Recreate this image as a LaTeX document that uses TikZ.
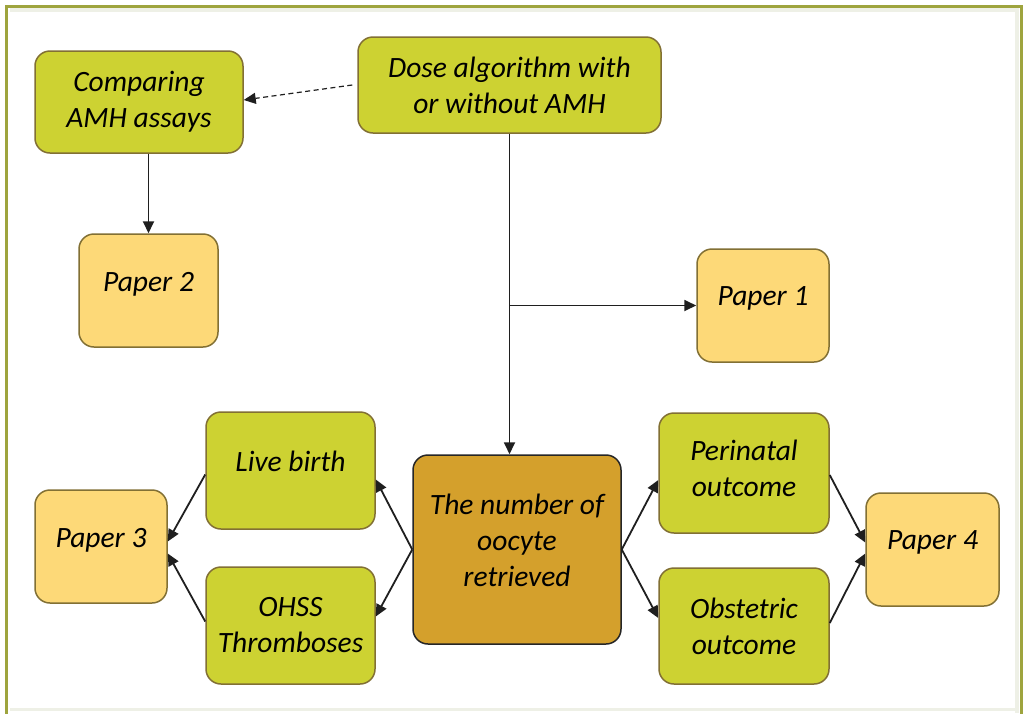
\documentclass[tikz,border=0pt]{standalone}
\usepackage{fontspec}
\setmainfont{Carlito}
\usetikzlibrary{arrows.meta}
\definecolor{boxgreen}{RGB}{205,210,50}
\definecolor{boxpaper}{RGB}{253,217,120}
\definecolor{boxgold}{RGB}{212,160,44}
\definecolor{edgebrown}{RGB}{130,112,52}
\definecolor{frameolive}{RGB}{158,164,62}
\definecolor{frameshade}{RGB}{238,240,230}
\tikzset{
  base/.style={rectangle, rounded corners=15pt, line width=1.5pt, draw=edgebrown,
    align=center, inner sep=0pt, font=\fontsize{29.5}{36}\selectfont\itshape},
  greenbox/.style={base, fill=boxgreen},
  paperbox/.style={base, fill=boxpaper},
  goldbox/.style={base, fill=boxgold, draw=black!85},
  raised/.style={text depth=18pt},
  conn/.style={line width=1.8pt, draw=black!88, -{Triangle[length=12pt,width=11pt]}},
}
\begin{document}
\begin{tikzpicture}[x=1pt,y=-1pt]
\useasboundingbox (0,0) rectangle (1027,713);
\fill[white] (0,0) rectangle (1027,713);
\draw[frameshade, line width=4pt] (10,10) -- (1017,10) -- (1017,713);
\draw[frameshade, line width=3pt] (10,709) -- (1017,709);
\draw[frameolive, line width=3pt] (6,716) -- (6,6) -- (1021,6) -- (1021,716);

\node[greenbox, minimum width=208pt, minimum height=102pt] (cmp) at (139,102) {Comparing\\AMH assays};
\node[greenbox, minimum width=303pt, minimum height=96pt] (dose) at (509.5,85) {Dose algorithm with\\or without AMH};
\node[paperbox, raised, minimum width=139pt, minimum height=113pt] (p2) at (148.5,290.5) {Paper 2};
\node[paperbox, raised, minimum width=132pt, minimum height=113pt] (p1) at (763,305.5) {Paper 1};
\node[greenbox, raised, minimum width=169pt, minimum height=117pt] (live) at (290.5,470.5) {Live birth};
\node[greenbox, minimum width=169pt, minimum height=117pt] (ohss) at (290.5,625.5) {OHSS\\Thromboses};
\node[goldbox, text depth=18pt, minimum width=208pt, minimum height=189pt] (num) at (517,549.5) {The number of\\oocyte\\retrieved};
\node[greenbox, text depth=10pt, minimum width=170pt, minimum height=120pt] (peri) at (744,473) {Perinatal\\outcome};
\node[greenbox, minimum width=170pt, minimum height=116pt] (obst) at (744,626) {Obstetric\\outcome};
\node[paperbox, raised, minimum width=132pt, minimum height=113pt] (p3) at (101,546.5) {Paper 3};
\node[paperbox, raised, minimum width=133pt, minimum height=113pt] (p4) at (932.5,549.5) {Paper 4};

\coordinate (branch) at (dose.south |- p1.west);

\draw[conn, dashed, dash pattern=on 5pt off 3.5pt, line width=1.2pt] ([xshift=-5pt]dose.west) -- ([yshift=2pt]cmp.east);
\draw[conn] (p2.north |- cmp.south) -- (p2.north);
\draw[conn] (dose.south) -- (dose.south |- num.north);
\draw[conn] (branch) -- (p1.west);

\draw[conn] (num.west) -- ([yshift=-9pt]live.east);
\draw[conn] (num.west) -- ([yshift=9pt]ohss.east);
\draw[conn] ([yshift=-4pt]live.west) -- ([yshift=5pt]p3.east);
\draw[conn] ([yshift=4pt]ohss.west) -- ([yshift=-7pt]p3.east);

\draw[conn] (num.east) -- ([yshift=-7pt]peri.west);
\draw[conn] (num.east) -- ([yshift=8pt]obst.west);
\draw[conn] ([yshift=-2pt]peri.east) -- ([yshift=7pt]p4.east -| p4.west);
\draw[conn] ([yshift=3pt]obst.east) -- ([yshift=-4pt]p4.east -| p4.west);
\end{tikzpicture}
\end{document}
